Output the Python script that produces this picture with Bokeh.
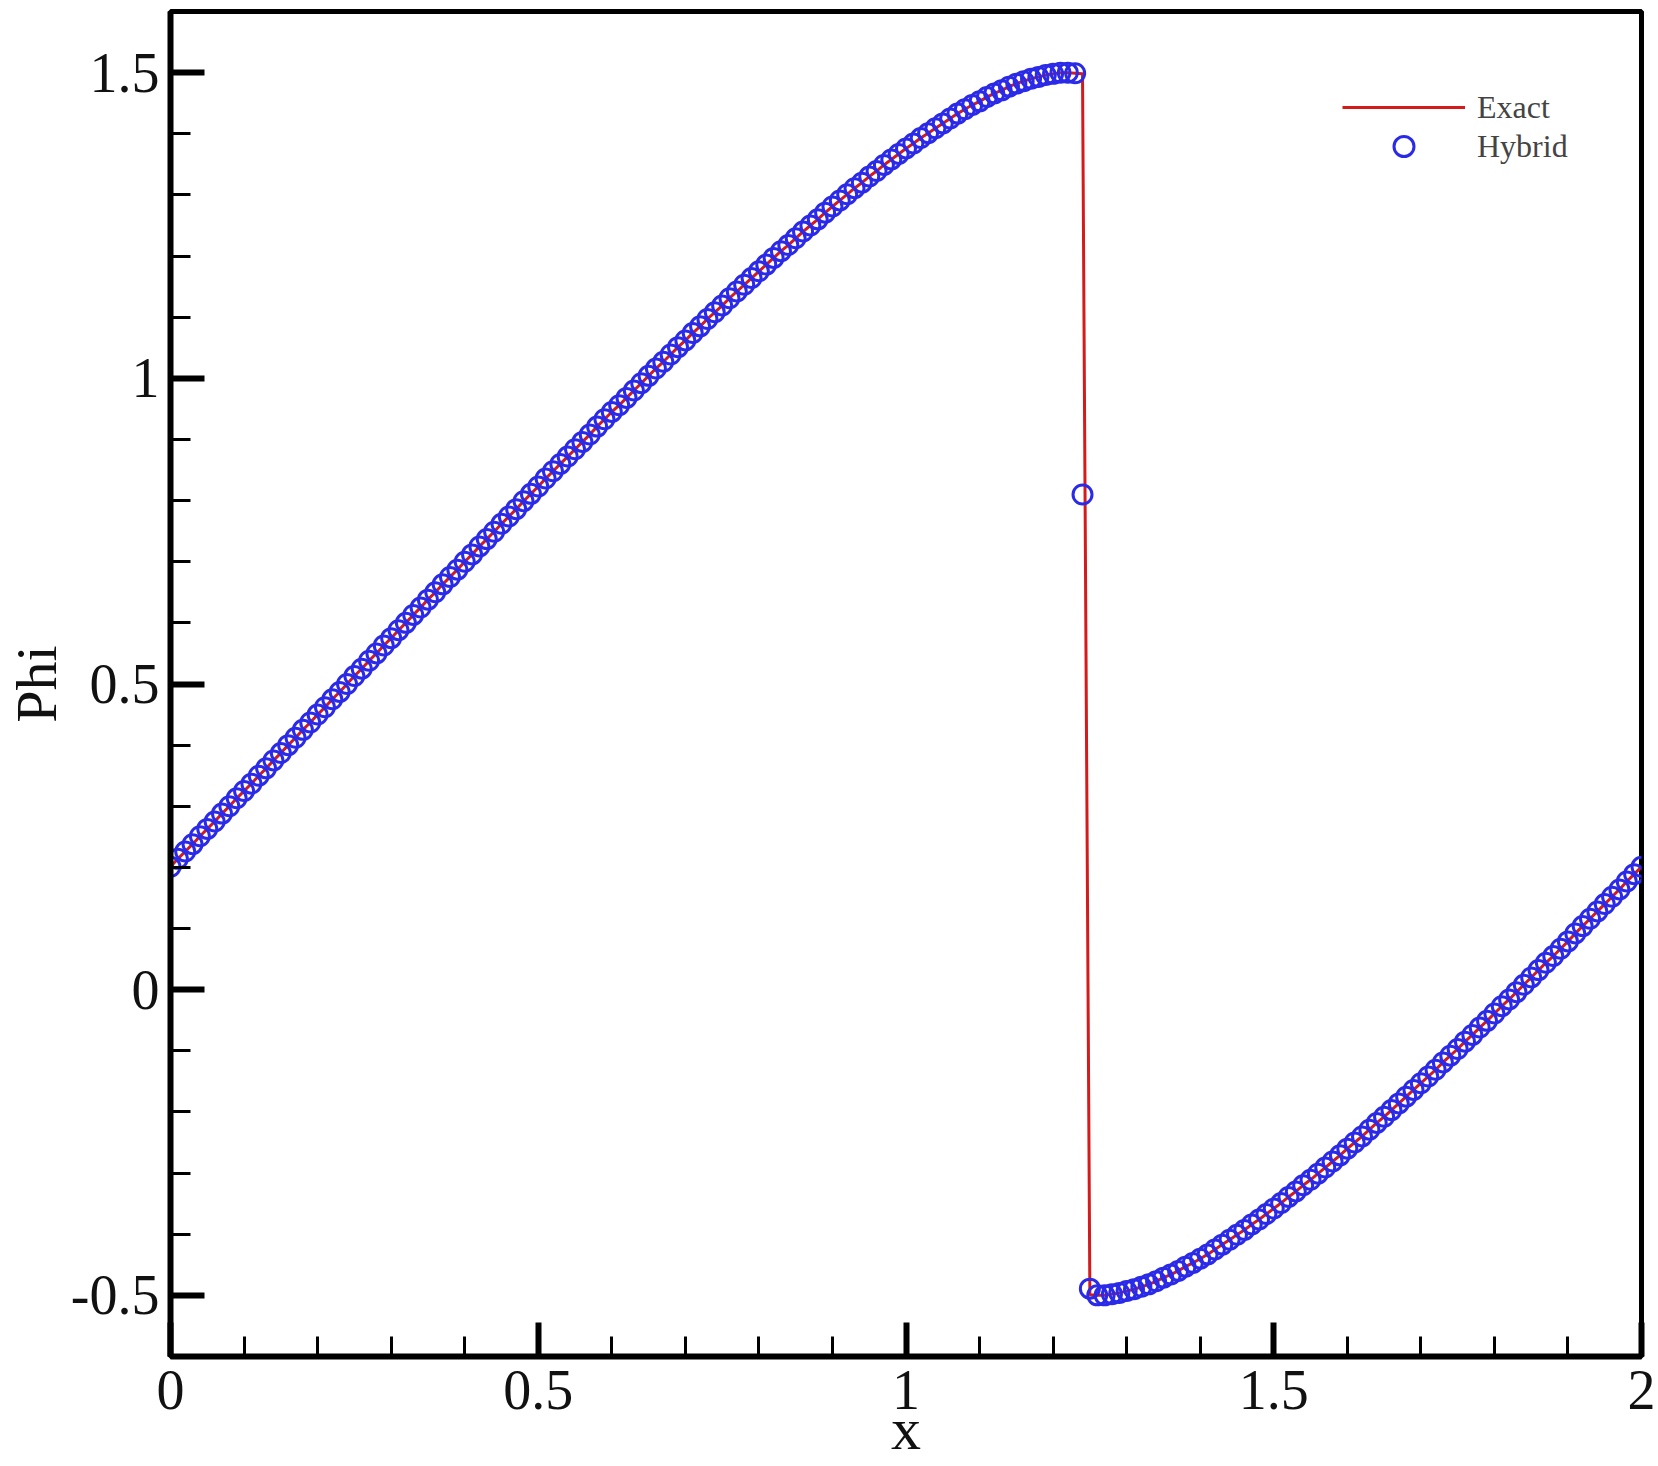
from bokeh.plotting import figure
from bokeh.models import (Range1d, FixedTicker, CustomJSTickFormatter,
                          Legend, LegendItem)
from bokeh.embed import file_html
from bokeh.resources import INLINE

# ---------------- data ----------------
x_grid = [round(i * 0.01, 2) for i in range(201)]

phi_exact = [
    0.201, 0.214, 0.226, 0.238, 0.251, 0.263, 0.275, 0.288, 0.300, 0.313,
    0.325, 0.337, 0.350, 0.362, 0.375, 0.387, 0.400, 0.412, 0.425, 0.437,
    0.450, 0.462, 0.475, 0.487, 0.500, 0.513, 0.525, 0.538, 0.550, 0.563,
    0.575, 0.588, 0.600, 0.613, 0.625, 0.638, 0.650, 0.663, 0.675, 0.687,
    0.700, 0.712, 0.725, 0.737, 0.749, 0.762, 0.774, 0.786, 0.799, 0.811,
    0.823, 0.836, 0.848, 0.860, 0.872, 0.884, 0.896, 0.908, 0.921, 0.933,
    0.945, 0.956, 0.968, 0.980, 0.992, 1.004, 1.016, 1.027, 1.039, 1.051,
    1.062, 1.074, 1.085, 1.097, 1.108, 1.119, 1.131, 1.142, 1.153, 1.164,
    1.175, 1.186, 1.197, 1.208, 1.218, 1.229, 1.240, 1.250, 1.260, 1.271,
    1.281, 1.291, 1.301, 1.311, 1.320, 1.330, 1.339, 1.349, 1.358, 1.367,
    1.376, 1.384, 1.393, 1.401, 1.409, 1.417, 1.425, 1.433, 1.440, 1.447,
    1.453, 1.460, 1.466, 1.471, 1.477, 1.482, 1.486, 1.490, 1.493, 1.496,
    1.498, 1.500, 1.500, 1.499, 1.498, -0.499, -0.500, -0.500, -0.498, -0.496,
    -0.493, -0.490, -0.486, -0.482, -0.477, -0.471, -0.466, -0.460, -0.453, -0.447,
    -0.440, -0.433, -0.425, -0.417, -0.409, -0.401, -0.393, -0.384, -0.376, -0.367,
    -0.358, -0.349, -0.339, -0.330, -0.320, -0.311, -0.301, -0.291, -0.281, -0.271,
    -0.260, -0.250, -0.240, -0.229, -0.218, -0.208, -0.197, -0.186, -0.175, -0.164,
    -0.153, -0.142, -0.131, -0.119, -0.108, -0.097, -0.085, -0.074, -0.062, -0.051,
    -0.039, -0.027, -0.016, -0.004, 0.008, 0.020, 0.032, 0.044, 0.055, 0.067,
    0.079, 0.092, 0.104, 0.116, 0.128, 0.140, 0.152, 0.164, 0.177, 0.189,
    0.201,
]

# numerical (Hybrid) values in the shock cells; elsewhere equal to exact
shock_x = [1.24, 1.25]
shock_phi_hybrid = [0.81, -0.489]

phi_hybrid = list(phi_exact)
for sx, sv in zip(shock_x, shock_phi_hybrid):
    phi_hybrid[x_grid.index(sx)] = sv

x_major = [0, 0.5, 1, 1.5, 2]
y_major = [-0.5, 0, 0.5, 1, 1.5]
x_minor = [round(i * 0.1, 1) for i in range(0, 21)]
y_minor = [round(-0.6 + i * 0.1, 1) for i in range(0, 23)]

# ---------------- figure ----------------
FONT = "Liberation Serif"

p = figure(width=1658, height=1466, output_backend="svg", toolbar_location=None,
           x_range=Range1d(0, 2), y_range=Range1d(-0.6, 1.6),
           x_axis_label="x", y_axis_label="Phi",
           min_border_left=168, min_border_right=17, min_border_top=11,
           min_border_bottom=110)

p.background_fill_color = "white"
p.border_fill_color = "white"
p.grid.visible = False
p.outline_line_color = "black"
p.outline_line_width = 5

fmt = CustomJSTickFormatter(code="return String(Math.round(tick*10)/10);")

for ax, maj, mnr in ((p.xaxis[0], x_major, x_minor), (p.yaxis[0], y_major, y_minor)):
    ax.ticker = FixedTicker(ticks=maj, minor_ticks=mnr)
    ax.formatter = fmt
    ax.axis_line_width = 6
    ax.axis_line_color = "black"
    ax.major_tick_in = 34
    ax.major_tick_out = 0
    ax.major_tick_line_width = 6
    ax.major_tick_line_color = "black"
    ax.minor_tick_in = 20
    ax.minor_tick_out = 0
    ax.minor_tick_line_width = 3
    ax.minor_tick_line_color = "black"
    ax.major_label_text_font = FONT
    ax.major_label_text_font_size = "56px"
    ax.major_label_text_color = "#111111"
    ax.axis_label_text_font = FONT
    ax.axis_label_text_font_style = "normal"
    ax.axis_label_text_color = "#111111"

p.xaxis[0].major_label_standoff = 14
p.xaxis[0].axis_label_text_font_size = "60px"
p.xaxis[0].axis_label_standoff = -16
p.yaxis[0].major_label_standoff = 11
p.yaxis[0].axis_label_text_font_size = "58px"
p.yaxis[0].axis_label_standoff = -1

# series
exact_r = p.line(x_grid, phi_exact, line_color="#d41a1a", line_width=3)
hyb_r = p.scatter(x_grid, phi_hybrid, marker="circle", size=19,
                  line_color="#2a2ae8", line_width=3, fill_alpha=0)

# legends
common = dict(background_fill_alpha=0, border_line_alpha=0, padding=0, margin=0,
              spacing=0, label_text_font=FONT, label_text_font_size="32px",
              label_standoff=12, glyph_width=123)
leg1 = Legend(items=[LegendItem(label="Exact", renderers=[exact_r])],
              location=(1172, 1229), glyph_height=40, label_height=40, **common)
leg2 = Legend(items=[LegendItem(label="Hybrid", renderers=[hyb_r])],
              location=(1172, 1185), glyph_height=50, label_height=50, **common)
p.add_layout(leg1)
p.add_layout(leg2)

open("out.html", "w").write(file_html(p, INLINE))
